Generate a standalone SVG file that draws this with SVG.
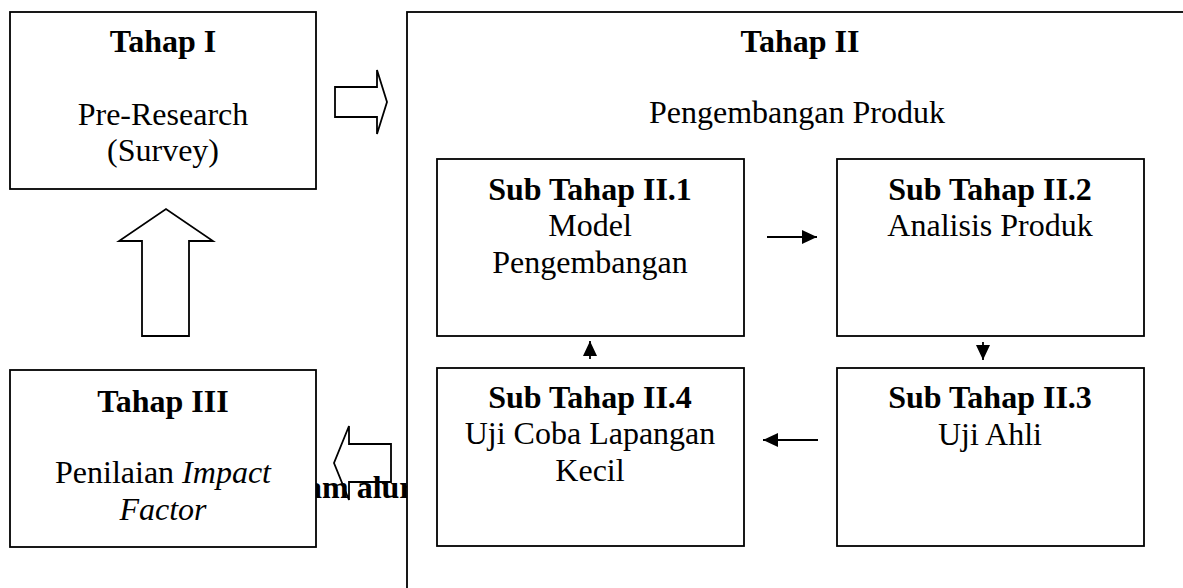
<svg xmlns="http://www.w3.org/2000/svg" width="1183" height="588" viewBox="0 0 1183 588">
<style>
  .box { fill: #fff; stroke: #000; stroke-width: 1.8; }
  .hollow { fill: none; stroke: #000; stroke-width: 1.8; stroke-linejoin: miter; }
  .con { stroke: #000; stroke-width: 1.8; fill: none; }
  text { font-family: "Liberation Serif", "Times New Roman", serif; font-size: 32px; fill: #000; text-anchor: middle; }
  .b { font-weight: bold; }
  .i { font-style: italic; }
</style>
<defs>
  <marker id="ah" viewBox="0 0 15 14" refX="15" refY="7" markerWidth="15" markerHeight="14" markerUnits="userSpaceOnUse" orient="auto">
    <path d="M0,0 L15,7 L0,14 Z" fill="#000"/>
  </marker>
</defs>
<rect width="1183" height="588" fill="#fff"/>

<!-- partially hidden caption text -->
<text class="b" x="306" y="498" style="text-anchor:start">am alur</text>

<g id="tahap2">
  <rect class="box" x="407" y="12" width="800" height="600"/>
  <text class="b" x="800" y="52">Tahap II</text>
  <text x="797" y="123">Pengembangan Produk</text>
</g>

<g id="tahap1">
  <rect class="box" x="10" y="12" width="306" height="177"/>
  <text class="b" x="163" y="52">Tahap I</text>
  <text x="163" y="125">Pre-Research</text>
  <text x="163" y="161">(Survey)</text>
</g>

<g id="tahap3">
  <rect class="box" x="10" y="370" width="306" height="177"/>
  <text class="b" x="163" y="412">Tahap III</text>
  <text x="163" y="483">Penilaian <tspan class="i">Impact</tspan></text>
  <text class="i" x="163" y="520">Factor</text>
</g>

<g id="sub1">
  <rect class="box" x="437" y="159" width="307" height="177"/>
  <text class="b" x="590" y="200">Sub Tahap II.1</text>
  <text x="590" y="236">Model</text>
  <text x="590" y="273">Pengembangan</text>
</g>

<g id="sub2">
  <rect class="box" x="837" y="159" width="307" height="177"/>
  <text class="b" x="990" y="200">Sub Tahap II.2</text>
  <text x="990" y="236">Analisis Produk</text>
</g>

<g id="sub3">
  <rect class="box" x="837" y="368" width="307" height="178"/>
  <text class="b" x="990" y="408">Sub Tahap II.3</text>
  <text x="990" y="445">Uji Ahli</text>
</g>

<g id="sub4">
  <rect class="box" x="437" y="368" width="307" height="178"/>
  <text class="b" x="590" y="408">Sub Tahap II.4</text>
  <text x="590" y="444">Uji Coba Lapangan</text>
  <text x="590" y="481">Kecil</text>
</g>

<g id="connectors">
  <path class="hollow" d="M335,87 L377,87 L377,70 L387,102 L377,134 L377,117 L335,117 Z"/>
  <path class="hollow" d="M142,336 L142,241 L119,241 L166,209 L213,241 L189,241 L189,336 Z"/>
  <path class="hollow" d="M391,444 L349,444 L349,426 L334,463 L349,500 L349,482 L391,482 Z"/>
  <line class="con" x1="767" y1="237" x2="817" y2="237" marker-end="url(#ah)"/>
  <line class="con" x1="983" y1="342" x2="983" y2="360" marker-end="url(#ah)"/>
  <line class="con" x1="818" y1="440" x2="763" y2="440" marker-end="url(#ah)"/>
  <line class="con" x1="590" y1="359" x2="590" y2="341" marker-end="url(#ah)"/>
</g>
</svg>
